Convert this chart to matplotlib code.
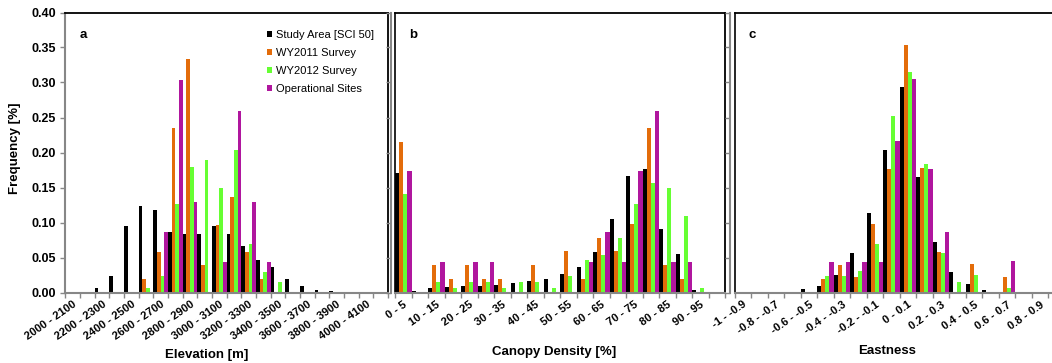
import numpy as np
import matplotlib
matplotlib.use("Agg")
import matplotlib.pyplot as plt
from matplotlib.patches import Patch

plt.rcParams['font.family'] = ['Liberation Sans', 'DejaVu Sans']

series_names = ["Study Area [SCI 50]", "WY2011 Survey", "WY2012 Survey", "Operational Sites"]
series_colors = ["#000000", "#E36C0A", "#66FF33", "#B0169E"]

elev_cats = ["2000 - 2100", "2100 - 2200", "2200 - 2300", "2300 - 2400", "2400 - 2500",
             "2500 - 2600", "2600 - 2700", "2700 - 2800", "2800 - 2900", "2900 - 3000",
             "3000 - 3100", "3100 - 3200", "3200 - 3300", "3300 - 3400", "3400 - 3500",
             "3500 - 3600", "3600 - 3700", "3700 - 3800", "3800 - 3900", "3900 - 4000",
             "4000 - 4100", "4100 - 4200"]
elev_study = [0, 0.001, 0.007, 0.024, 0.095, 0.124, 0.118, 0.086, 0.084, 0.083, 0.095,
              0.084, 0.066, 0.047, 0.036, 0.020, 0.010, 0.004, 0.002, 0, 0, 0]
elev_wy2011 = [0, 0, 0, 0, 0, 0.019, 0.058, 0.235, 0.333, 0.039, 0.097,
               0.136, 0.058, 0.019, 0, 0, 0, 0, 0, 0, 0, 0]
elev_wy2012 = [0, 0, 0, 0, 0, 0.007, 0.023, 0.126, 0.180, 0.189, 0.149,
               0.203, 0.070, 0.030, 0.015, 0, 0, 0, 0, 0, 0, 0]
elev_ops = [0, 0, 0, 0, 0, 0, 0.086, 0.304, 0.130, 0, 0.043,
            0.260, 0.130, 0.043, 0, 0, 0, 0, 0, 0, 0, 0]

canopy_cats = ["0 - 5", "5 - 10", "10 - 15", "15 - 20", "20 - 25", "25 - 30", "30 - 35",
               "35 - 40", "40 - 45", "45 - 50", "50 - 55", "55 - 60", "60 - 65", "65 - 70",
               "70 - 75", "75 - 80", "80 - 85", "85 - 90", "90 - 95", "95 - 100"]
canopy_study = [0.171, 0.002, 0.006, 0.008, 0.009, 0.010, 0.011, 0.014, 0.017, 0.020,
                0.026, 0.036, 0.058, 0.105, 0.166, 0.176, 0.091, 0.055, 0.004, 0]
canopy_wy2011 = [0.215, 0, 0.039, 0.019, 0.039, 0.019, 0.019, 0, 0.039, 0,
                 0.059, 0.019, 0.078, 0.059, 0.098, 0.235, 0.039, 0.019, 0, 0]
canopy_wy2012 = [0.141, 0, 0.015, 0.007, 0.015, 0.015, 0.007, 0.015, 0.015, 0.007,
                 0.023, 0.047, 0.054, 0.078, 0.126, 0.157, 0.149, 0.110, 0.007, 0]
canopy_ops = [0.173, 0, 0.043, 0, 0.043, 0.043, 0, 0, 0, 0,
              0, 0.043, 0.086, 0.043, 0.173, 0.260, 0.043, 0.043, 0, 0]

east_cats = ["-1 - -0.9", "-0.9 - -0.8", "-0.8 - -0.7", "-0.7 - -0.6", "-0.6 - -0.5",
             "-0.5 - -0.4", "-0.4 - -0.3", "-0.3 - -0.2", "-0.2 - -0.1", "-0.1 - 0",
             "0 - 0.1", "0.1 - 0.2", "0.2 - 0.3", "0.3 - 0.4", "0.4 - 0.5",
             "0.5 - 0.6", "0.6 - 0.7", "0.7 - 0.8", "0.8 - 0.9", "0.9 - 1"]
east_study = [0, 0, 0, 0.001, 0.005, 0.010, 0.025, 0.056, 0.114, 0.204,
              0.293, 0.165, 0.072, 0.030, 0.012, 0.004, 0.001, 0, 0, 0]
east_wy2011 = [0, 0, 0, 0, 0, 0.020, 0.039, 0.022, 0.098, 0.176,
               0.353, 0.178, 0.058, 0, 0.041, 0, 0.022, 0, 0, 0]
east_wy2012 = [0, 0, 0, 0, 0, 0.023, 0.023, 0.031, 0.070, 0.2515,
               0.315, 0.183, 0.0565, 0.015, 0.025, 0, 0.007, 0, 0, 0]
east_ops = [0, 0, 0, 0, 0, 0.043, 0.043, 0.043, 0.043, 0.217,
            0.305, 0.176, 0.087, 0, 0, 0, 0.045, 0, 0, 0]

W, H = 1052, 363
GRAY = "#878787"
fig = plt.figure(figsize=(W / 100, H / 100), dpi=100)


def px_axes(left, right, top, bottom):
    return fig.add_axes([left / W, 1 - bottom / H, (right - left) / W, (bottom - top) / H])


def draw_panel(ax, cats, series, letter, first=False):
    n = len(cats)
    idx = np.arange(n)
    w = 0.25
    for j, (vals, col) in enumerate(zip(series, series_colors)):
        ax.bar(idx - 0.5 + (j + 0.5) * w, vals, width=w, color=col, linewidth=0)
    ax.set_xlim(-0.5, n - 0.5)
    ax.set_ylim(0, 0.40)
    ax.set_yticks(np.arange(0, 0.401, 0.05))
    ax.set_xticks(idx[::2])
    ax.set_xticklabels(cats[::2], rotation=35, ha='right', rotation_mode='anchor',
                       fontsize=8, fontweight='bold')
    ax.set_xticks(np.arange(-0.5, n), minor=True)
    ax.tick_params(axis='x', which='major', length=0, pad=5)
    ax.tick_params(axis='x', which='minor', length=3.5, width=1, color=GRAY, direction='out')
    ax.tick_params(axis='y', length=3.5, width=1, color=GRAY, direction='out')
    if first:
        ax.set_yticklabels([f"{v:.2f}" for v in np.arange(0, 0.401, 0.05)],
                           fontsize=9, fontweight='bold')
        ax.tick_params(axis='y', pad=3)
    else:
        ax.set_yticklabels([])
        ax.spines['left'].set_position(('outward', 3))
        ax.plot([0, 0], [0, 1], transform=ax.transAxes, color='black', lw=1.2, clip_on=False)
    for s in ['left', 'bottom']:
        ax.spines[s].set_color(GRAY)
        ax.spines[s].set_linewidth(1.5)
    for s in ['top', 'right']:
        ax.spines[s].set_color('black')
        ax.spines[s].set_linewidth(1.3)
    ax.text(0.055, 0.92, letter, transform=ax.transAxes, fontsize=9.5,
            fontweight='bold', va='center', ha='center')


ax_a = px_axes(65.3, 388, 12.5, 292.5)
ax_b = px_axes(395, 725, 12.5, 292.5)
ax_c = px_axes(734.5, 1064.5, 12.5, 292.5)

draw_panel(ax_a, elev_cats, [elev_study, elev_wy2011, elev_wy2012, elev_ops], "a", first=True)
draw_panel(ax_b, canopy_cats, [canopy_study, canopy_wy2011, canopy_wy2012, canopy_ops], "b")
draw_panel(ax_c, east_cats, [east_study, east_wy2011, east_wy2012, east_ops], "c")

fig.text(207 / W, 1 - 355 / H, "Elevation [m]", fontsize=9.5, fontweight='bold',
         ha='center', va='center')
fig.text(554 / W, 1 - 352 / H, "Canopy Density [%]", fontsize=9.5, fontweight='bold',
         ha='center', va='center')
fig.text(887 / W, 1 - 351 / H, "Eastness", fontsize=9.5, fontweight='bold',
         ha='center', va='center')
fig.text(15 / W, 1 - 148 / H, "Frequency [%]", fontsize=9.5, fontweight='bold',
         ha='center', va='center', rotation=90)

handles = [Patch(facecolor=c, edgecolor='none') for c in series_colors]
fig.legend(handles, series_names, loc='upper left', bbox_to_anchor=(267 / W, 1 - 30 / H),
           bbox_transform=fig.transFigure, frameon=False, fontsize=8,
           handlelength=0.45, handleheight=0.45, handletextpad=0.35,
           labelspacing=0.72, borderpad=0, borderaxespad=0)

fig.savefig("out.png", dpi=100)
